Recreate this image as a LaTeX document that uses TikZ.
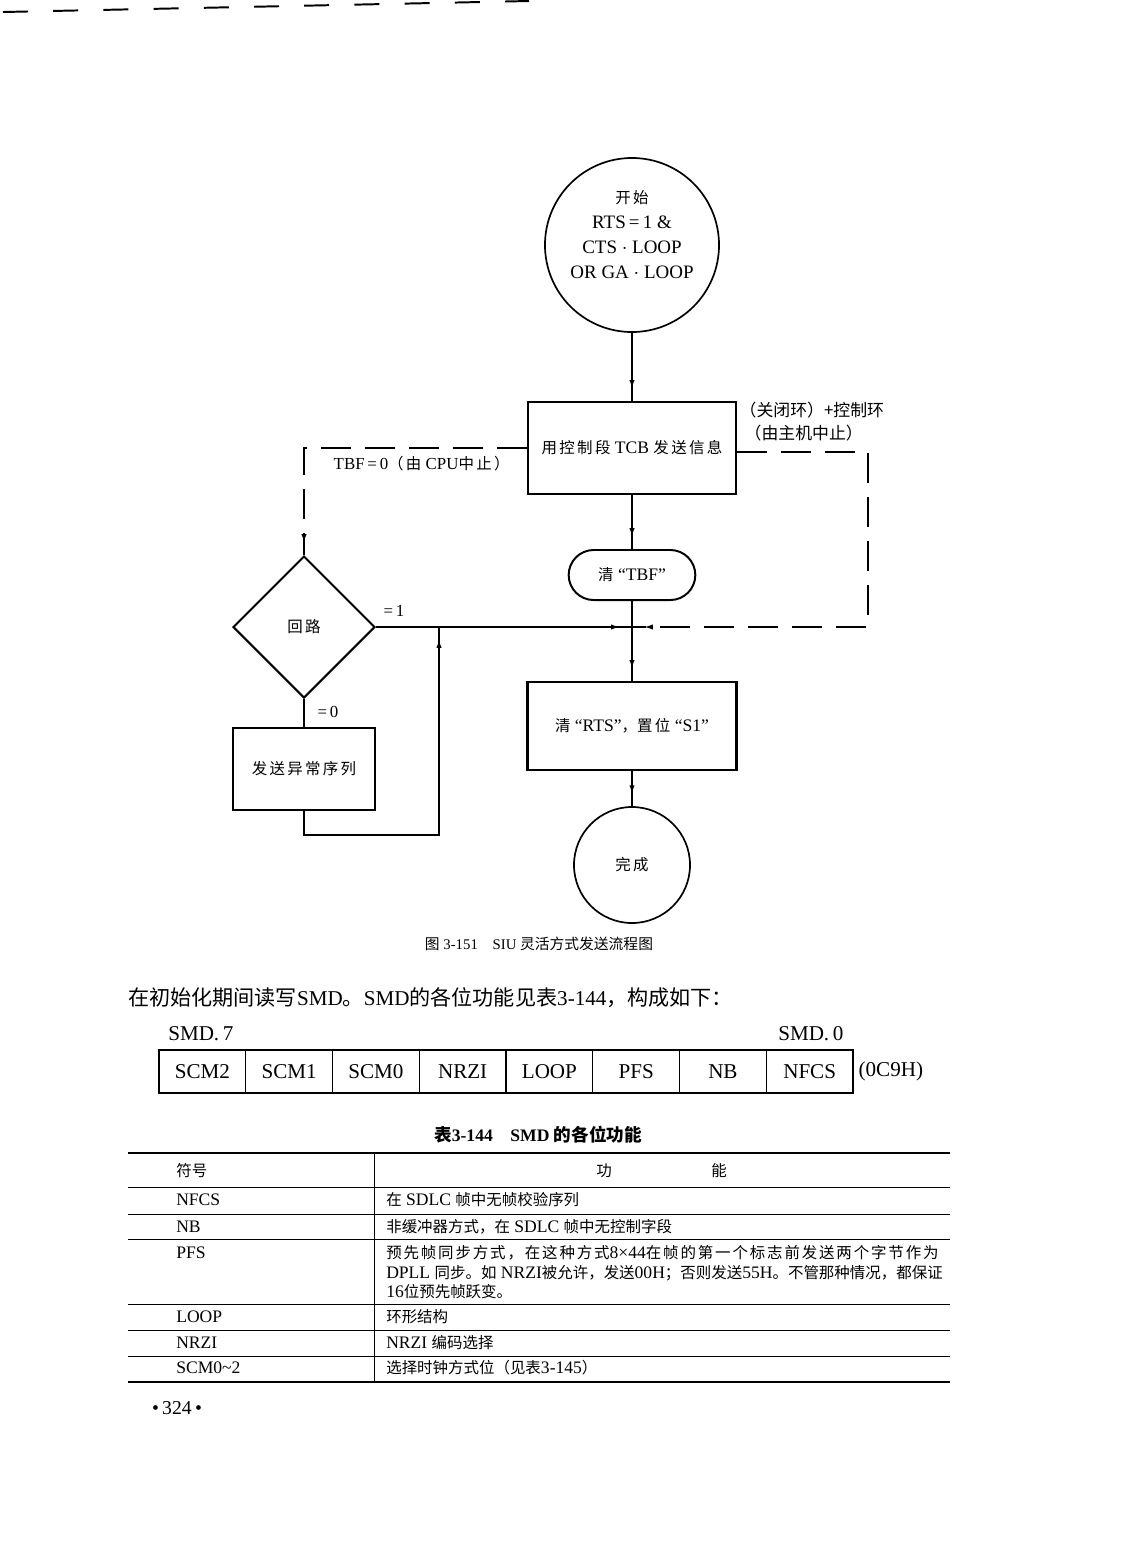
\documentclass[tikz,border=0pt]{standalone}
\usepackage{fontspec}
\setmainfont{Liberation Serif}
\newfontfamily\cjk{Noto Sans CJK SC}
\newfontfamily\cjksp{Noto Sans CJK SC}[LetterSpace=15]
\newfontfamily\cjkwide{Noto Sans CJK SC}[LetterSpace=12]
\usetikzlibrary{arrows.meta,positioning,shapes.geometric,shapes.misc,decorations.markings}
\newcommand{\zh}[1]{{\cjk #1}}
\newcommand{\zs}[1]{{\fontsize{11}{13}\selectfont\cjksp #1}}
\newcommand{\zt}[1]{{\fontsize{11}{13}\selectfont\cjk #1}}
\newcommand{\zw}[1]{{\fontsize{11}{13}\selectfont\cjkwide #1}}
\tikzset{
  block/.style={rectangle, draw, line width=1.6pt, font=\fontsize{12.5}{14}\selectfont, inner sep=2pt},
  term/.style={circle, draw, line width=1.2pt, inner sep=0pt, font=\fontsize{12.5}{14}\selectfont},
  flow/.style={line width=1.1pt, postaction={decorate},
    decoration={markings, mark=at position -0.3cm with {\arrow{Latex[length=2.2mm,width=1.3mm]}}}},
  back/.style={flow, dash pattern=on 0.75cm off 0.35cm},
  hint/.style={font=\fontsize{12}{14}\selectfont, inner sep=1pt},
  reg/.style={rectangle, draw, line width=0.9pt, minimum width=2.169cm, minimum height=1.075cm,
              inner sep=0pt, font=\fontsize{15}{17}\selectfont},
  cell/.style={anchor=west, inner sep=0pt, font=\fontsize{12.5}{14}\selectfont},
}

\begin{document}
\begin{tikzpicture}[x=0.025cm, y=-0.025cm]
\useasboundingbox (0,0) rectangle (1122,1568);

% scan edge
\draw[line width=1.4pt, dash pattern=on 0.625cm off 0.63cm] (3,12) -- (529,1);

% Flow blocks
\node[term, minimum size=4.35cm] (start) at (632,245) {};
\node[align=center, font=\fontsize{13.5}{17.8}\selectfont] (starttext) at (632,235)
  {\zs{开始}\\RTS\,=\,1 \&\\CTS $\cdot$ LOOP\\OR GA $\cdot$ LOOP};
\node[block, minimum width=5.2cm, minimum height=2.3cm] (send) at (632,448) {\zs{用控制段} TCB \zs{发送信息}};
\node[rounded rectangle, draw, line width=1.4pt, minimum width=3.4cm, minimum height=1.25cm,
      font=\fontsize{12.5}{14}\selectfont] (clrtbf) at (632,575) {\zs{清} ``TBF''};
\node[diamond, draw, line width=1.4pt, minimum width=3.55cm, minimum height=3.55cm, inner sep=0pt,
      font=\fontsize{12}{14}\selectfont] (loop) at (304,627) {\zs{回路}};
\node[block, minimum width=3.55cm, minimum height=2.05cm] (abort) at (304,769) {\zs{发送异常序列}};
\node[block, minimum width=5.22cm, minimum height=2.2cm] (clrrts) at (632,726)
  {\zs{清} ``RTS''\zt{，}\zs{置位} ``S1''};
\node[term, minimum size=2.9cm] (done) at (632,865) {\zs{完成}};
\coordinate (join) at (632,627);
\coordinate (merge) at (439,627);

% Arrows
\draw[flow] (start) -- (send);
\draw[flow] (send) -- (clrtbf);
\draw[flow] (clrtbf) -- (clrrts);
\draw[flow] (clrrts) -- (done);
\draw[flow] (loop.east) -- (join);
\draw[line width=1.1pt] (loop.south) -- (abort.north);
\draw[flow] (abort.south) -- ++(0,24) -| (merge);
\draw[back] (send.west) -| (loop.north);
\draw[back] ([yshift=-0.1cm]send.east) -- ++(131,0) |- (join);

% Branch labels
\node[hint, anchor=west] (tbfzero) at (332,464) {TBF\,=\,0\zs{（由} CPU\zs{中止）}};
\node[hint, anchor=west] (closeloop) at (738,410) {\zh{（关闭环）+控制环}};
\node[hint, anchor=west] (hoststop) at (743,433) {\zh{（由主机中止）}};
\node[hint] (one) at (394,611) {=\,1};
\node[hint] (zero) at (328,712) {=\,0};

\node[font=\fontsize{10.5}{12}\selectfont] (caption) at (539,944)
  {\zh{图} 3-151\quad SIU \zh{灵活方式发送流程图}};

% Register layout
\node[anchor=west, inner sep=0pt, font=\fontsize{15}{18}\selectfont] (intro) at (128,998)
  {\zh{在初始化期间读写}SMD\zh{。}SMD\zh{的各位功能见表}3-144\zh{，构成如下：}};
\node[anchor=west, inner sep=0pt, font=\fontsize{15}{17}\selectfont] (msb) at (168,1034) {SMD.\,7};
\node[anchor=west, inner sep=0pt, font=\fontsize{15}{17}\selectfont] (lsb) at (778,1034) {SMD.\,0};
\foreach \bitname [count=\i from 0] in {SCM2,SCM1,SCM0,NRZI,LOOP,PFS,NB,NFCS}
  \node[reg] (bit\i) at ({202.4+86.75*\i},1071.5) {\bitname};
\node[anchor=west, font=\fontsize{15}{17}\selectfont] (addr) at (bit7.east) {(0C9H)};

% Table 3-144
\node[font=\bfseries\fontsize{12.5}{14}\selectfont] (tabtitle) at (538,1135)
  {\zh{表}3-144\quad SMD \zh{的各位功能}};
\draw[line width=1.5pt] (128,1153) -- (950,1153);
\draw[line width=1.5pt] (128,1382) -- (950,1382);
\foreach \y in {1187,1214,1239,1304,1330,1356}
  \draw[line width=0.7pt] (128,\y) -- (950,\y);
\draw[line width=0.7pt] (374,1153) -- (374,1382);

\node[cell] (hsym) at (176,1171) {\zt{符号}};
\node[inner sep=0pt] (hfun) at (604,1171) {\zt{功}};
\node[inner sep=0pt] (hcap) at (719,1171) {\zt{能}};
\node[cell] (snfcs) at (176,1200) {NFCS};
\node[cell] (fnfcs) at (386,1200) {\zt{在} SDLC \zt{帧中无帧校验序列}};
\node[cell] (snb) at (176,1227) {NB};
\node[cell] (fnb) at (386,1227) {\zt{非缓冲器方式，在} SDLC \zt{帧中无控制字段}};
\node[cell] (spfs) at (176,1253) {PFS};
\node[cell] (fpfsa) at (386,1253) {\zw{预先帧同步方式，在这种方式}8×44\zw{在帧的第一个标志前发送两个字节作为}};
\node[cell] (fpfsb) at (386,1273) {DPLL \zt{同步。如} NRZI\zt{被允许，发送}00H\zt{；否则发送}55H\zt{。不管那种情况，都保证}};
\node[cell] (fpfsc) at (386,1292) {16\zt{位预先帧跃变。}};
\node[cell] (sloop) at (176,1317) {LOOP};
\node[cell] (floop) at (386,1317) {\zt{环形结构}};
\node[cell] (snrzi) at (176,1343) {NRZI};
\node[cell] (fnrzi) at (386,1343) {NRZI \zt{编码选择}};
\node[cell] (sscm) at (176,1368) {SCM0\textasciitilde 2};
\node[cell] (fscm) at (386,1368) {\zt{选择时钟方式位（见表}3-145\zt{）}};

\node[font=\fontsize{14}{16}\selectfont] (page) at (177,1408) {\textbullet\,324\,\textbullet};

\end{tikzpicture}
\end{document}
